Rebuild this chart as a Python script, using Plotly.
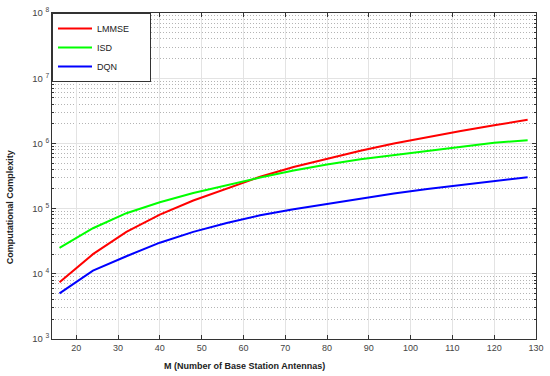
import plotly.graph_objects as go

M = [16, 24, 32, 40, 48, 56, 64, 72, 80, 88, 96, 104, 112, 120, 128]
lmmse = [7.4e3, 2.0e4, 4.4e4, 8.1e4, 1.33e5, 2.03e5, 3.08e5, 4.35e5, 5.8e5,
         7.7e5, 1.0e6, 1.25e6, 1.55e6, 1.9e6, 2.3e6]
isd = [2.5e4, 5.0e4, 8.5e4, 1.25e5, 1.74e5, 2.3e5, 3.0e5, 3.85e5, 4.75e5,
       5.7e5, 6.6e5, 7.7e5, 9.0e5, 1.02e6, 1.12e6]
dqn = [5.0e3, 1.12e4, 1.86e4, 3.0e4, 4.4e4, 6.0e4, 7.9e4, 9.8e4, 1.18e5,
       1.43e5, 1.7e5, 2.0e5, 2.31e5, 2.66e5, 3.02e5]
series = [("LMMSE", lmmse, "#ff0000"), ("ISD", isd, "#00ff00"), ("DQN", dqn, "#0000ff")]

x_ticks = [20, 30, 40, 50, 60, 70, 80, 90, 100, 110, 120, 130]
y_exps = [3, 4, 5, 6, 7, 8]
y_ticks = [10 ** e for e in y_exps]
y_ticktext = [f"10 <sup>{e}</sup>" for e in y_exps]

fig = go.Figure()
for i, (name, vals, col) in enumerate(series):
    label = name + ("\u00a0" * 6 if i == 0 else "")
    fig.add_trace(go.Scatter(x=M, y=vals, mode="lines", name=label,
                             line=dict(color=col, width=2),
                             legendgroup=name))

W, H = 550, 376
L, R, T, B = 52, 6, 13, 37
pw, ph = W - L - R, H - T - B

fig.update_layout(
    width=W, height=H,
    margin=dict(l=L, r=R, t=T, b=B),
    paper_bgcolor="white", plot_bgcolor="white",
    font=dict(family="Liberation Sans, Arial, sans-serif", size=9, color="#444"),
    showlegend=True,
    legend=dict(x=0, y=1, xanchor="left", yanchor="top",
                bgcolor="white", bordercolor="#333", borderwidth=1,
                font=dict(size=9, color="#222"),
                tracegroupgap=0, itemwidth=34),
    xaxis=dict(range=[14.2, 130], tickvals=x_ticks, ticks="inside", ticklen=4,
               tickcolor="#333", showline=True, linecolor="#333", linewidth=1,
               mirror="allticks", showgrid=True, gridcolor="#e3e3e3", gridwidth=1,
               zeroline=False, tickfont=dict(size=9, color="#444"),
               ticklabeloverflow="allow"),
    yaxis=dict(type="log", range=[3, 8], tickvals=y_ticks, ticktext=y_ticktext,
               ticks="inside", ticklen=4, tickcolor="#333",
               showline=True, linecolor="#333", linewidth=1, mirror="allticks",
               showgrid=True, gridcolor="#e3e3e3", gridwidth=1, zeroline=False,
               tickfont=dict(size=9.5, color="#444"),
               minor=dict(dtick="D1", ticks="inside", ticklen=2, tickcolor="#333",
                          showgrid=True, gridcolor="#b4b4b4", griddash="1px,2px",
                          gridwidth=1)),
    annotations=[
        dict(text="<b>M (Number of Base Station Antennas)</b>",
             x=(248 - L) / pw, y=-(366 - (T + ph)) / ph, xref="paper", yref="paper",
             showarrow=False, font=dict(size=9, color="#222"),
             xanchor="center", yanchor="middle"),
        dict(text="<b>Computational Complexity</b>",
             x=(9.5 - L) / pw, y=1 - (207 - T) / ph, xref="paper", yref="paper",
             showarrow=False, textangle=-90, font=dict(size=9, color="#222"),
             xanchor="center", yanchor="middle"),
    ],
)

fig.write_html("out.html", config={"displayModeBar": False},
               post_script="document.body.style.margin='0';document.body.style.padding='0';")
